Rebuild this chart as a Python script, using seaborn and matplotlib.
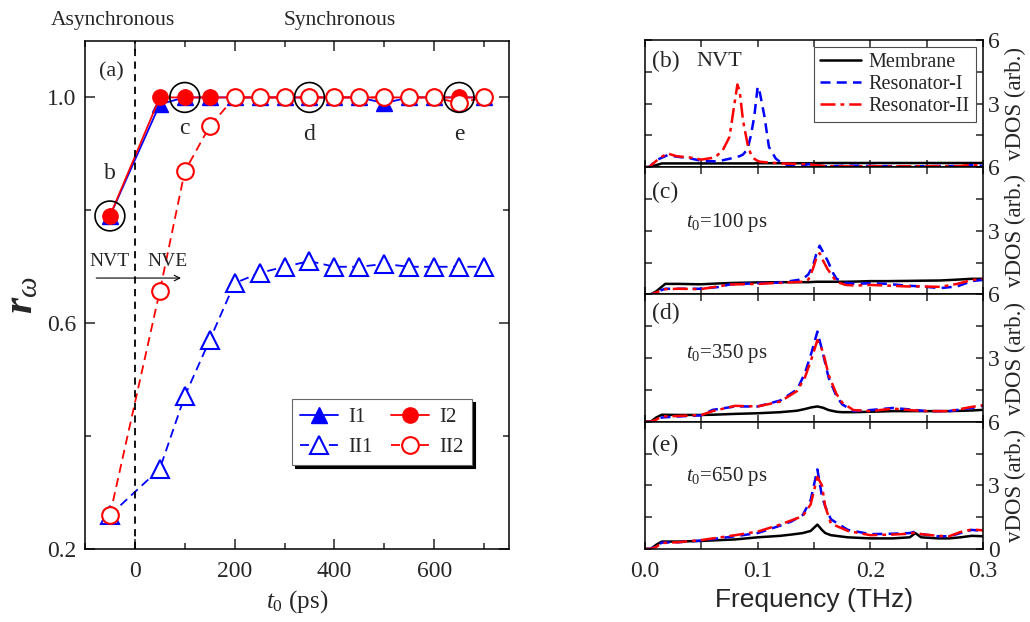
import matplotlib
matplotlib.use('Agg')
import matplotlib.pyplot as plt
from matplotlib.ticker import MultipleLocator
import seaborn as sns

# ---- panel (a): order parameter vs t0 ----
t0 = [-50, 50, 100, 150, 200, 250, 300, 350, 400, 450, 500, 550, 600, 650, 700]
r_I1 = [0.79, 0.988, 1.0, 1.0, 1.0, 1.0, 1.0, 1.0, 1.0, 1.0, 0.99, 1.0, 1.0, 1.0, 1.0]
r_I2 = [0.79, 1.0, 1.0, 1.0, 1.0, 1.0, 1.0, 1.0, 1.0, 1.0, 1.0, 1.0, 1.0, 1.0, 1.0]
r_II1 = [0.26, 0.342, 0.471, 0.57, 0.671, 0.689, 0.70, 0.71, 0.70, 0.70, 0.705, 0.70, 0.70, 0.70, 0.70]
r_II2 = [0.26, 0.657, 0.869, 0.949, 1.0, 1.0, 1.0, 1.0, 1.0, 1.0, 1.0, 1.0, 1.0, 0.99, 1.0]
ring_t = [-50, 100, 350, 650]
ring_r = [0.79, 1.0, 1.0, 1.0]
ring_tags = ['b', 'c', 'd', 'e']

# ---- panels (b)-(e): vDOS ----
freq_b = [0, 0.004, 0.01, 0.015, 0.02, 0.028, 0.04, 0.05, 0.062, 0.069, 0.075, 0.079, 0.082, 0.084,
          0.087, 0.091, 0.094, 0.097, 0.1, 0.102, 0.106, 0.11, 0.116, 0.122, 0.134, 0.145, 0.16,
          0.18, 0.2, 0.22, 0.24, 0.26, 0.28, 0.29, 0.3]
mem_b = [0, 0, 0.1, 0.18, 0.18, 0.18, 0.18, 0.18, 0.18, 0.18, 0.18, 0.18, 0.18, 0.18, 0.18, 0.18,
         0.18, 0.18, 0.19, 0.19, 0.19, 0.19, 0.19, 0.19, 0.19, 0.19, 0.2, 0.2, 0.2, 0.2, 0.2, 0.2,
         0.2, 0.2, 0.2]
res1_b = [0, 0.02, 0.33, 0.45, 0.57, 0.5, 0.42, 0.3, 0.28, 0.33, 0.4, 0.45, 0.5, 0.52, 0.6, 0.85,
          1.5, 2.4, 3.8, 3.5, 2.4, 0.96, 0.41, 0.17, 0.02, 0.14, 0.04, 0.08, 0.06, 0.05, 0.04, 0.06,
          0.05, 0.1, 0.06]
res2_b = [0, 0.02, 0.3, 0.5, 0.65, 0.52, 0.46, 0.36, 0.46, 0.8, 1.43, 2.85, 3.9, 3.6, 2.2, 1.1,
          0.6, 0.4, 0.3, 0.26, 0.24, 0.22, 0.2, 0.18, 0.16, 0.14, 0.05, 0.04, 0.05, 0.04, 0.05,
          0.05, 0.06, 0.12, 0.05]

freq_c = [0, 0.005, 0.01, 0.018, 0.03, 0.049, 0.065, 0.075, 0.1, 0.12, 0.14, 0.145, 0.149, 0.152,
          0.155, 0.158, 0.162, 0.167, 0.17, 0.178, 0.187, 0.2, 0.215, 0.232, 0.245, 0.262, 0.277,
          0.29, 0.3]
mem_c = [0, 0, 0.15, 0.5, 0.5, 0.48, 0.52, 0.54, 0.57, 0.58, 0.58, 0.58, 0.59, 0.6, 0.6, 0.6, 0.6,
         0.6, 0.6, 0.6, 0.61, 0.63, 0.63, 0.64, 0.65, 0.66, 0.7, 0.74, 0.74]
res1_c = [0, 0, 0.12, 0.27, 0.27, 0.27, 0.35, 0.47, 0.53, 0.56, 0.72, 0.95, 1.35, 1.9, 2.3, 2.0,
          1.6, 1.0, 0.74, 0.55, 0.5, 0.53, 0.5, 0.42, 0.38, 0.3, 0.38, 0.63, 0.69]
res2_c = [0, 0, 0.1, 0.25, 0.27, 0.25, 0.38, 0.47, 0.5, 0.55, 0.6, 0.7, 1.2, 1.7, 1.95, 1.6, 1.2,
          0.82, 0.6, 0.45, 0.42, 0.45, 0.42, 0.38, 0.38, 0.36, 0.5, 0.68, 0.74]

freq_d = [0, 0.005, 0.01, 0.015, 0.03, 0.05, 0.06, 0.08, 0.1, 0.12, 0.135, 0.142, 0.148, 0.153,
          0.158, 0.163, 0.17, 0.175, 0.185, 0.2, 0.22, 0.235, 0.25, 0.27, 0.29, 0.3]
mem_d = [0, 0, 0.2, 0.33, 0.32, 0.32, 0.33, 0.37, 0.4, 0.45, 0.52, 0.6, 0.68, 0.72, 0.66, 0.55,
         0.47, 0.45, 0.45, 0.47, 0.5, 0.5, 0.5, 0.5, 0.53, 0.56]
res1_d = [0, 0, 0.1, 0.2, 0.25, 0.3, 0.56, 0.72, 0.72, 1.0, 1.52, 2.3, 3.3, 4.25, 3.2, 2.07, 1.2,
          0.82, 0.5, 0.55, 0.65, 0.58, 0.5, 0.5, 0.65, 0.75]
res2_d = [0, 0, 0.1, 0.25, 0.27, 0.32, 0.5, 0.75, 0.72, 0.95, 1.45, 2.1, 3.0, 3.85, 3.3, 2.2, 1.3,
          0.9, 0.55, 0.5, 0.62, 0.55, 0.5, 0.5, 0.7, 0.78]

freq_e = [0, 0.005, 0.01, 0.015, 0.03, 0.05, 0.08, 0.1, 0.12, 0.13, 0.14, 0.147, 0.153, 0.157,
          0.16, 0.165, 0.18, 0.2, 0.22, 0.235, 0.24, 0.245, 0.26, 0.27, 0.28, 0.29, 0.3]
mem_e = [0, 0, 0.2, 0.35, 0.35, 0.38, 0.45, 0.55, 0.62, 0.68, 0.75, 0.85, 1.15, 0.9, 0.75, 0.65,
         0.55, 0.5, 0.5, 0.55, 0.75, 0.55, 0.5, 0.5, 0.55, 0.62, 0.6]
res1_e = [0, 0, 0.15, 0.3, 0.32, 0.4, 0.6, 0.75, 1.1, 1.3, 1.6, 2.3, 3.75, 2.5, 2.0, 1.4, 0.9,
          0.7, 0.72, 0.75, 0.82, 0.7, 0.6, 0.6, 0.75, 0.9, 0.85]
res2_e = [0, 0, 0.1, 0.28, 0.32, 0.42, 0.65, 0.82, 1.15, 1.35, 1.55, 2.1, 3.4, 3.0, 2.0, 1.2,
          0.85, 0.65, 0.68, 0.72, 0.78, 0.7, 0.62, 0.6, 0.8, 0.92, 0.88]

panel_tags = ['(b)', '(c)', '(d)', '(e)']
panel_notes = ['NVT', '$t_0$=100 ps', '$t_0$=350 ps', '$t_0$=650 ps']

sns.set_style('ticks')
plt.rcParams['font.family'] = ['Liberation Serif', 'DejaVu Serif']
plt.rcParams['mathtext.fontset'] = 'custom'
plt.rcParams['mathtext.rm'] = 'Liberation Serif'
plt.rcParams['mathtext.it'] = 'Liberation Serif:italic'
plt.rcParams['mathtext.bf'] = 'Liberation Serif:bold'
plt.rcParams['mathtext.bfit'] = 'Liberation Serif:italic:bold'
plt.rcParams['xtick.direction'] = 'in'
plt.rcParams['ytick.direction'] = 'in'
plt.rcParams['axes.linewidth'] = 1.1
plt.rcParams['axes.edgecolor'] = 'black'

fig = plt.figure(figsize=(10.3, 6.22), dpi=100)

# ---------------- (a) ----------------
ax = fig.add_axes([0.0825, 0.1174, 0.4117, 0.8167])
dash = (0, (5, 3))
sns.lineplot(x=t0, y=r_II1, ax=ax, color='blue', linestyle=dash, linewidth=1.3, marker='^',
             markersize=13, markerfacecolor='white', markeredgecolor='blue',
             markeredgewidth=1.5, label='II1', legend=False)
sns.lineplot(x=t0, y=r_I1, ax=ax, color='blue', linewidth=1.3, marker='^', markersize=12,
             markerfacecolor='blue', markeredgecolor='blue', markeredgewidth=1,
             label='I1', legend=False)
sns.lineplot(x=t0, y=r_I2, ax=ax, color='red', linewidth=1.3, marker='o', markersize=11,
             markerfacecolor='red', markeredgecolor='red', markeredgewidth=1,
             label='I2', legend=False)
sns.lineplot(x=t0, y=r_II2, ax=ax, color='red', linestyle=dash, linewidth=1.3, marker='o',
             markersize=12, markerfacecolor='white', markeredgecolor='red',
             markeredgewidth=1.5, label='II2', legend=False)
sns.scatterplot(x=ring_t, y=ring_r, ax=ax, s=460, facecolor='none', edgecolor='black',
                linewidth=1.2, zorder=5)

ax.axvline(0, color='black', linestyle=(0, (4, 3)), linewidth=1.3)
ax.set_xlim(-100, 750)
ax.set_ylim(0.2, 1.1)
ax.set_xticks([0, 200, 400, 600])
ax.xaxis.set_minor_locator(MultipleLocator(100))
ax.set_yticks([0.2, 0.6, 1.0])
ax.yaxis.set_minor_locator(MultipleLocator(0.2))
ax.tick_params(which='both', top=True, right=True, labelsize=17, width=1.1)
ax.tick_params(which='major', length=7)
ax.tick_params(which='minor', length=4.5)
ax.tick_params(axis='x', which='both', pad=9)
ax.tick_params(axis='y', which='both', pad=6)
ax.set_xlabel('$t_0$ (ps)', fontsize=18, labelpad=4)
ax.set_ylabel(r'$\mathbfit{r}_{\omega}$', fontsize=30, labelpad=4)

ax.text(-48, 1.046, '(a)', fontsize=16, ha='center', va='center')
label_y = [0.866, 0.945, 0.934, 0.935]
for tx, ty, tag in zip(ring_t, label_y, ring_tags):
    ax.text(tx, ty, tag, fontsize=17, ha='center', va='center')
ax.text(-50, 0.71, 'NVT', fontsize=14, ha='center', va='center')
ax.text(66, 0.71, 'NVE', fontsize=14, ha='center', va='center')
ax.annotate('', xy=(98, 0.68), xytext=(-83, 0.68),
            arrowprops=dict(arrowstyle='->', lw=0.8, color='black'))

handles, labels = ax.get_legend_handles_labels()
hmap = dict(zip(labels, handles))
leg = ax.legend([hmap[k] for k in ['I1', 'II1', 'I2', 'II2']], ['I1', 'II1', 'I2', 'II2'],
                ncol=2, loc='lower left', bbox_to_anchor=(0.488, 0.165), borderaxespad=0,
                fontsize=15, fancybox=False, framealpha=1, edgecolor='0.4',
                shadow={'color': 'black', 'alpha': 1}, handlelength=1.8,
                columnspacing=0.9, labelspacing=0.5, handletextpad=0.5)
leg.get_frame().set_linewidth(0.8)

fig.text(113 / 1030, 1 - 20 / 622, 'Asynchronous', fontsize=15.5, ha='center', va='center')
fig.text(340 / 1030, 1 - 20 / 622, 'Synchronous', fontsize=15.5, ha='center', va='center')

# ---------------- (b)-(e) ----------------
panels = [(freq_b, mem_b, res1_b, res2_b), (freq_c, mem_c, res1_c, res2_c),
          (freq_d, mem_d, res1_d, res2_d), (freq_e, mem_e, res1_e, res2_e)]
note_y = [5.0, 3.4, 3.2, 3.4]
tag_y = [5.0, 4.8, 5.1, 4.9]
h = 0.8183 / 4
for i, (fq, mem, r1, r2) in enumerate(panels):
    axr = fig.add_axes([0.6262, 0.1174 + (3 - i) * h, 0.3282, h])
    sns.lineplot(x=fq, y=mem, ax=axr, color='black', linewidth=1.8, label='Membrane',
                 legend=False)
    sns.lineplot(x=fq, y=r1, ax=axr, color='blue', linewidth=1.8, linestyle=(0, (4, 2.5)),
                 label='Resonator-I', legend=False)
    sns.lineplot(x=fq, y=r2, ax=axr, color='red', linewidth=1.8,
                 linestyle=(0, (6, 2, 1.5, 2)), label='Resonator-II', legend=False)
    axr.set_xlim(0, 0.3)
    axr.set_ylim(0, 6)
    axr.set_xticks([0.0, 0.1, 0.2, 0.3])
    axr.xaxis.set_minor_locator(MultipleLocator(0.05))
    axr.set_yticks([0, 3, 6])
    axr.yaxis.set_minor_locator(MultipleLocator(1.5))
    axr.tick_params(which='both', top=True, bottom=True, left=True, right=True,
                    labelleft=False, labelright=True, labelsize=17, width=1.1, length=5)
    axr.tick_params(axis='x', which='both', pad=9)
    axr.yaxis.set_label_position('right')
    axr.set_ylabel('vDOS (arb.)', fontsize=16.5, labelpad=4)
    if i < 3:
        axr.set_yticklabels(['', '3', '6'])
        axr.tick_params(labelbottom=False)
        axr.set_xlabel('')
    else:
        axr.set_yticklabels(['0', '3', '6'])
        axr.set_xticklabels(['0.0', '0.1', '0.2', '0.3'])
        axr.set_xlabel('Frequency (THz)', family='Liberation Sans', fontsize=19, labelpad=4)
    axr.text(0.006, tag_y[i], panel_tags[i], fontsize=17, ha='left', va='center')
    if i == 0:
        axr.text(0.046, note_y[i], panel_notes[i], fontsize=16, ha='left', va='center')
        lg = axr.legend(loc='upper right', fontsize=14.5, fancybox=False, framealpha=1,
                        edgecolor='0.3', handlelength=2.0, labelspacing=0.15,
                        borderpad=0.3, borderaxespad=0.35, handletextpad=0.4)
        lg.get_frame().set_linewidth(0.8)
    else:
        axr.text(0.036, note_y[i], panel_notes[i], fontsize=15, ha='left', va='center')

fig.savefig('out.png', dpi=100)
